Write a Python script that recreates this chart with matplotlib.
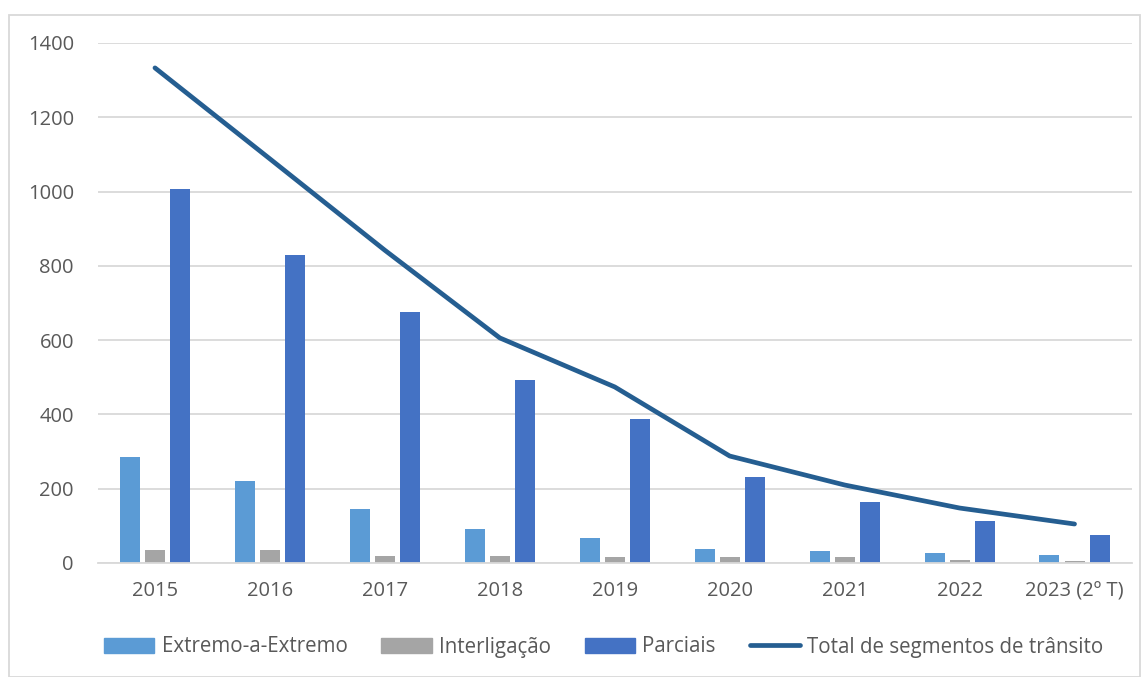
import matplotlib
matplotlib.use("Agg")
import matplotlib.pyplot as plt
import numpy as np
from matplotlib.patches import Rectangle, Patch
from matplotlib.lines import Line2D

categories = ["2015", "2016", "2017", "2018", "2019", "2020", "2021", "2022", "2023 (2º T)"]
extremo = [285, 221, 145, 92, 67, 38, 32, 27, 22]
interligacao = [35, 35, 19, 19, 16, 16, 16, 8, 5]
parciais = [1007, 829, 676, 493, 388, 232, 164, 113, 75]
total = [1333, 1088, 842, 606, 474, 288, 210, 148, 105]

series_names = ["Extremo-a-Extremo", "Interligação", "Parciais", "Total de segmentos de trânsito"]
c_ext, c_int, c_par, c_line = "#5B9BD5", "#A5A5A5", "#4472C4", "#255E91"
txt = "#595959"

plt.rcParams['font.family'] = ['Open Sans', 'DejaVu Sans']

fig = plt.figure(figsize=(11.48, 6.77), dpi=100)
ax = fig.add_axes([97.5/1148, 1-563/677, (1132-97.5)/1148, (563-43)/677])

x = np.arange(len(categories))
w = 0.174
step = 0.218
ax.bar(x - step, extremo, w, color=c_ext, zorder=2)
ax.bar(x, interligacao, w, color=c_int, zorder=2)
ax.bar(x + step, parciais, w, color=c_par, zorder=2)
ax.plot(x, total, color=c_line, lw=3.4, solid_capstyle='round', zorder=3)

ax.set_xlim(-0.5, len(categories) - 0.5)
ax.set_ylim(0, 1400)
ax.set_yticks(range(0, 1401, 200))
ax.set_xticks(x)
ax.set_xticklabels(categories)
ax.yaxis.grid(True, color="#D9D9D9", lw=1.3, zorder=0)
ax.set_axisbelow(True)
for s in ["top", "right", "left"]:
    ax.spines[s].set_visible(False)
ax.spines["bottom"].set_color("#D9D9D9")
ax.spines["bottom"].set_linewidth(1.3)
ax.tick_params(axis="both", length=0, labelsize=14.5, colors=txt)
ax.tick_params(axis="x", pad=13)
ax.tick_params(axis="y", pad=17)

handles = [Patch(color=c_ext), Patch(color=c_int), Patch(color=c_par),
           Line2D([0], [0], color=c_line, lw=3.4, solid_capstyle='round')]
leg = fig.legend(handles, series_names, loc="center", bbox_to_anchor=(0.526, 1-647/677),
                 ncol=4, frameon=False, fontsize=14.8, handlelength=2.45, handleheight=0.7,
                 columnspacing=1.65, handletextpad=0.35)
for t in leg.get_texts():
    t.set_color(txt)

fig.patches.append(Rectangle((9/1148, 0), (1140-9)/1148, 1-15/677, transform=fig.transFigure,
                             fill=False, edgecolor="#D9D9D9", lw=1.3))

fig.savefig("out.png", dpi=100)
